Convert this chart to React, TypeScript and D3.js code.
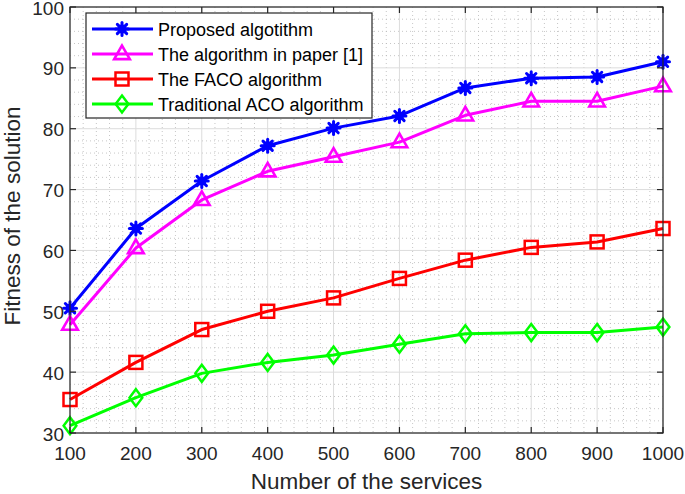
import React from "react";
import * as d3 from "d3";

const services = [100, 200, 300, 400, 500, 600, 700, 800, 900, 1000];
const proposed = [50.5, 63.6, 71.4, 77.2, 80.1, 82.1, 86.7, 88.3, 88.5, 91.0];
const paper1 = [47.8, 60.4, 68.3, 73.0, 75.4, 77.8, 82.2, 84.5, 84.5, 87.0];
const faco = [35.5, 41.6, 47.0, 50.0, 52.2, 55.4, 58.4, 60.5, 61.4, 63.6];
const aco = [31.2, 35.8, 39.8, 41.6, 42.8, 44.6, 46.3, 46.5, 46.5, 47.4];
const seriesNames = [
  "Proposed algotithm",
  "The algorithm in paper [1]",
  "The FACO algorithm",
  "Traditional ACO algorithm",
];
const xTicks = [100, 200, 300, 400, 500, 600, 700, 800, 900, 1000];
const yTicks = [30, 40, 50, 60, 70, 80, 90, 100];

const W = 685, H = 494;
const L = 70, R = 663, T = 7, B = 433;
const font = "Liberation Sans, Arial, Helvetica, sans-serif";
const axisColor = "#262626";

function Marker({ kind, x, y, color }: { kind: string; x: number; y: number; color: string }) {
  if (kind === "star") {
    const r = 6.5;
    const d = r * 0.72;
    return (
      <g stroke={color} strokeWidth={3} strokeLinecap="round">
        <line x1={x - r} y1={y} x2={x + r} y2={y} />
        <line x1={x} y1={y - r} x2={x} y2={y + r} />
        <line x1={x - d} y1={y - d} x2={x + d} y2={y + d} />
        <line x1={x - d} y1={y + d} x2={x + d} y2={y - d} />
        <circle cx={x} cy={y} r={4.5} fill={color} stroke="none" />
      </g>
    );
  }
  if (kind === "tri") {
    const s = 8.5;
    const pts = [
      [x, y - s],
      [x - s * 0.92, y + s * 0.6],
      [x + s * 0.92, y + s * 0.6],
    ];
    return <polygon points={pts.map((p) => p.join(",")).join(" ")} fill="none" stroke={color} strokeWidth={2.6} />;
  }
  if (kind === "sq") {
    const s = 6.5;
    return <rect x={x - s} y={y - s} width={2 * s} height={2 * s} fill="none" stroke={color} strokeWidth={2.5} />;
  }
  const s = 8.5;
  const pts = [
    [x, y - s],
    [x + s * 0.75, y],
    [x, y + s],
    [x - s * 0.75, y],
  ];
  return <polygon points={pts.map((p) => p.join(",")).join(" ")} fill="none" stroke={color} strokeWidth={2.5} />;
}

export default function App() {
  const x = d3.scaleLinear().domain([100, 1000]).range([L, R]);
  const y = d3.scaleLinear().domain([30, 100]).range([B, T]);
  const series = [
    { name: seriesNames[0], values: proposed, color: "#0000ff", kind: "star" },
    { name: seriesNames[1], values: paper1, color: "#ff00ff", kind: "tri" },
    { name: seriesNames[2], values: faco, color: "#ff0000", kind: "sq" },
    { name: seriesNames[3], values: aco, color: "#00ff00", kind: "dia" },
  ];
  const line = d3
    .line<number>()
    .x((_, i) => x(services[i]))
    .y((v) => y(v));
  const xMinor = d3.range(100, 1000.1, 20).filter((v) => v % 100 !== 0);
  const yMinor = d3.range(30, 100.1, 2).filter((v) => v % 10 !== 0);

  const legX = 86, legY = 13, legW = 286, legH = 105;
  const rowH = 25;

  return (
    <div style={{ position: "absolute", left: 0, top: 0 }}>
      <svg width={W} height={H} style={{ display: "block", background: "#fff" }}>
        <rect x={0} y={0} width={W} height={H} fill="#fff" />
        {/* minor grid */}
        <g stroke="#b8b8b8" strokeWidth={0.8} strokeDasharray="1,3">
          {xMinor.map((v) => (
            <line key={"xm" + v} x1={x(v)} x2={x(v)} y1={T} y2={B} />
          ))}
          {yMinor.map((v) => (
            <line key={"ym" + v} x1={L} x2={R} y1={y(v)} y2={y(v)} />
          ))}
        </g>
        {/* major grid */}
        <g stroke="#dcdcdc" strokeWidth={1}>
          {xTicks.map((v) => (
            <line key={"xg" + v} x1={x(v)} x2={x(v)} y1={T} y2={B} />
          ))}
          {yTicks.map((v) => (
            <line key={"yg" + v} x1={L} x2={R} y1={y(v)} y2={y(v)} />
          ))}
        </g>
        {/* series */}
        {series.map((s) => (
          <g key={s.name}>
            <path d={line(s.values) || ""} fill="none" stroke={s.color} strokeWidth={3} strokeLinejoin="round" />
            {s.values.map((v, i) => (
              <Marker key={i} kind={s.kind} x={x(services[i])} y={y(v)} color={s.color} />
            ))}
          </g>
        ))}
        {/* axes box */}
        <rect x={L} y={T} width={R - L} height={B - T} fill="none" stroke={axisColor} strokeWidth={1.2} />
        <g stroke={axisColor} strokeWidth={1.2}>
          {xTicks.map((v) => (
            <g key={"xt" + v}>
              <line x1={x(v)} x2={x(v)} y1={B} y2={B - 6} />
              <line x1={x(v)} x2={x(v)} y1={T} y2={T + 6} />
            </g>
          ))}
          {yTicks.map((v) => (
            <g key={"yt" + v}>
              <line x1={L} x2={L + 6} y1={y(v)} y2={y(v)} />
              <line x1={R} x2={R - 6} y1={y(v)} y2={y(v)} />
            </g>
          ))}
        </g>
        {/* tick labels */}
        <g fill={axisColor} fontFamily={font} fontSize={19}>
          {xTicks.map((v) => (
            <text key={"xl" + v} x={x(v)} y={B + 27} textAnchor="middle">
              {v}
            </text>
          ))}
          {yTicks.map((v) => (
            <text key={"yl" + v} x={L - 6} y={y(v) + 7.5} textAnchor="end">
              {v}
            </text>
          ))}
        </g>
        <text x={(L + R) / 2} y={489} textAnchor="middle" fontFamily={font} fontSize={22.5} fill={axisColor}>
          Number of the services
        </text>
        <text
          transform={`translate(20, 216) rotate(-90)`}
          textAnchor="middle"
          fontFamily={font}
          fontSize={22.5}
          fill={axisColor}
        >
          Fitness of the solution
        </text>
        {/* legend */}
        <rect x={legX} y={legY} width={legW} height={legH} fill="#fff" stroke={axisColor} strokeWidth={1.2} />
        {series.map((s, i) => {
          const cy = legY + 16 + i * rowH;
          return (
            <g key={"leg" + s.name}>
              <line x1={92} x2={153} y1={cy} y2={cy} stroke={s.color} strokeWidth={3} />
              <Marker kind={s.kind} x={122} y={cy} color={s.color} />
              <text x={158} y={cy + 6.5} fontFamily={font} fontSize={18} fill="#000">
                {s.name}
              </text>
            </g>
          );
        })}
      </svg>
    </div>
  );
}
